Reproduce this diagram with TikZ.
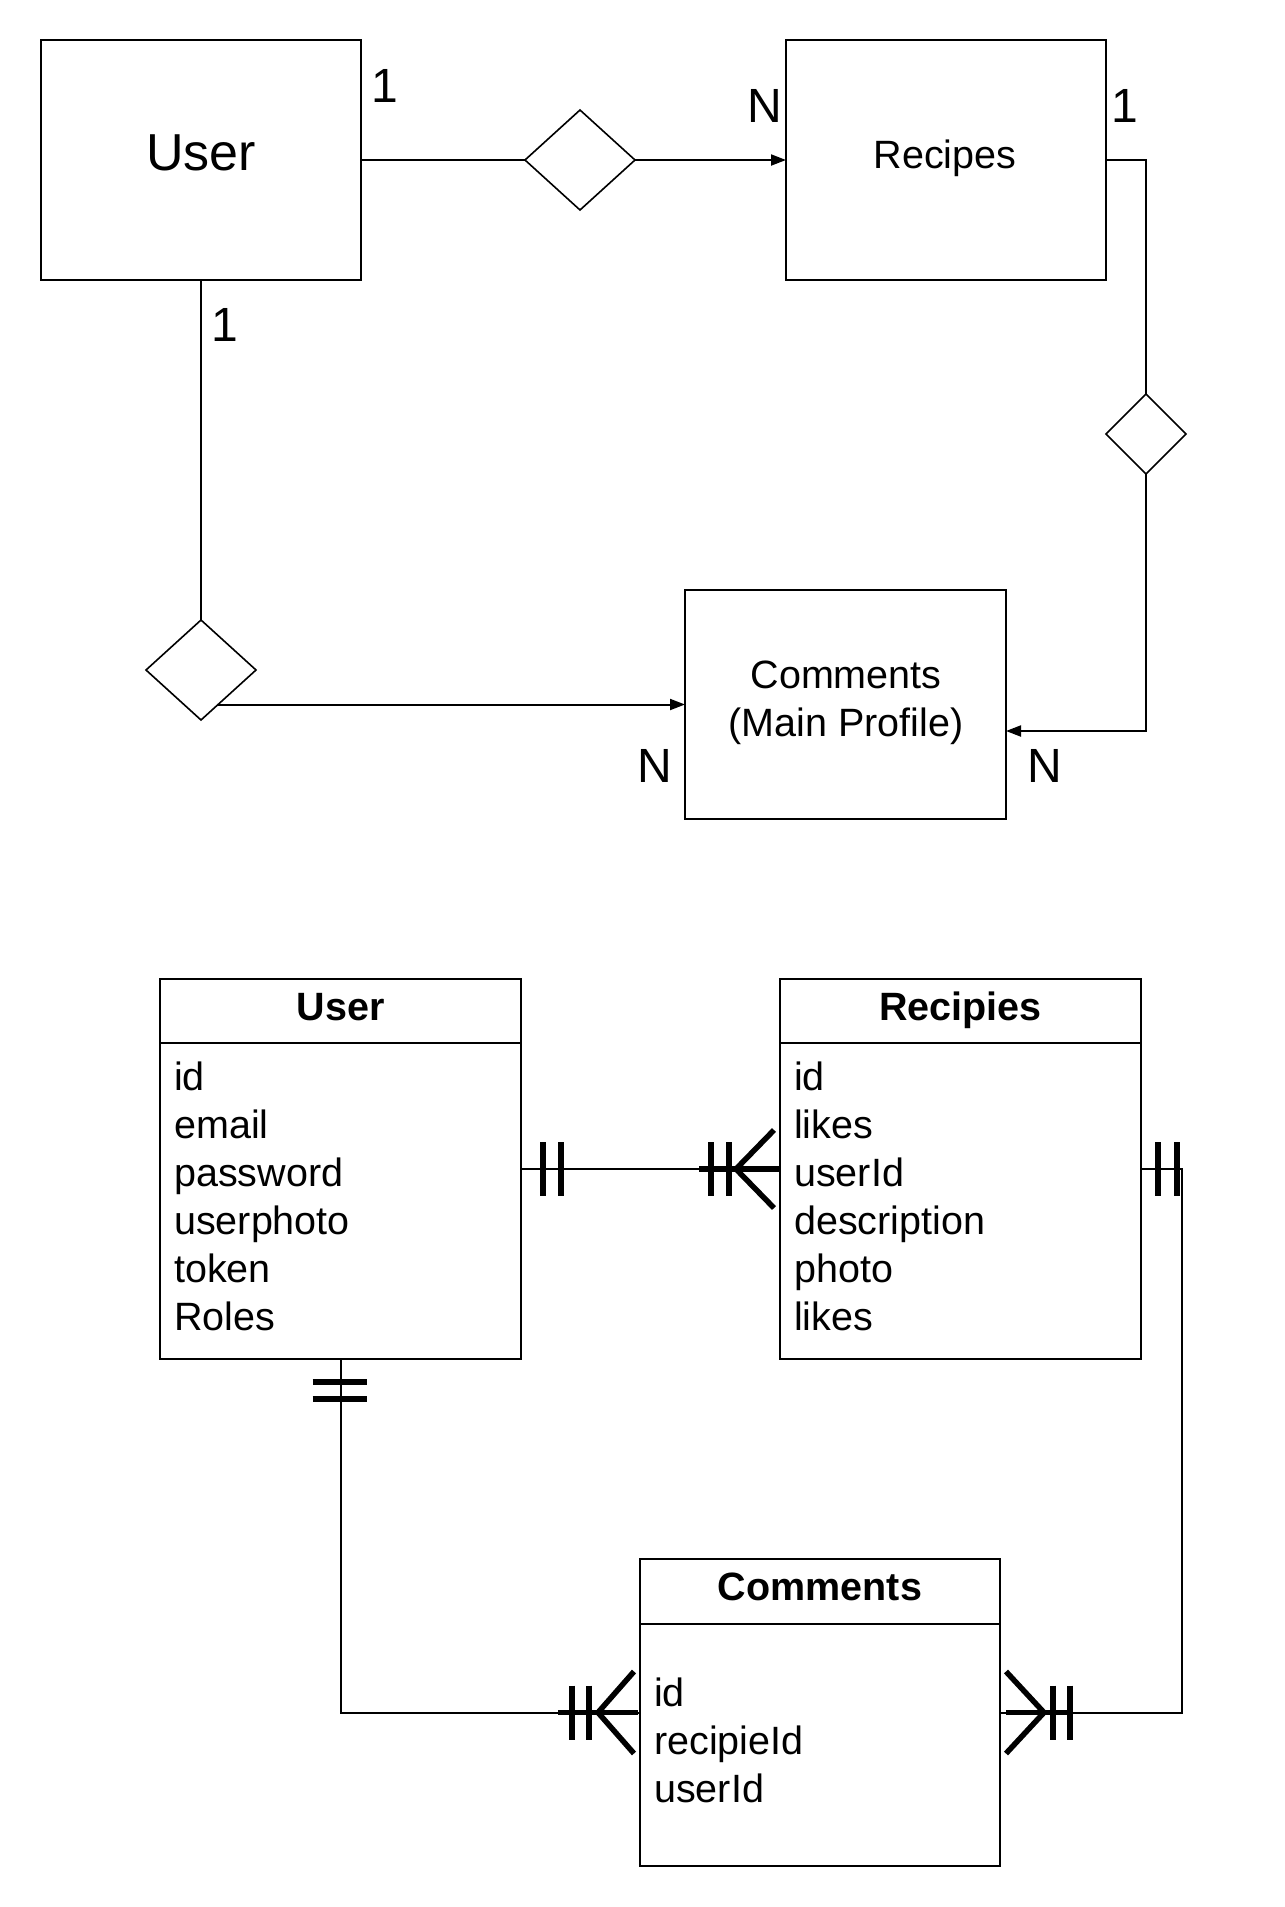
\documentclass[tikz,border=0pt]{standalone}
\usepackage{fontspec}
\setmainfont{Liberation Sans}
\usetikzlibrary{shapes.geometric,arrows.meta,calc}
\begin{document}
\begin{tikzpicture}[x=1pt,y=-1pt,
  ent/.style={draw, line width=2.2pt, inner sep=0pt, outer sep=0pt, anchor=north west},
  rel/.style={draw, diamond, line width=1.6pt, inner sep=0pt, outer sep=0pt},
  conn/.style={line width=2pt},
  arr/.style={conn, -{Triangle[length=15pt,width=11pt]}},
  card/.style={font=\fontsize{48}{56}\selectfont, anchor=base, inner sep=0pt},
  title/.style={font=\fontsize{52}{60}\selectfont, anchor=base, inner sep=0pt},
  txt/.style={font=\fontsize{39.5}{47}\selectfont, anchor=base, inner sep=0pt},
  hdr/.style={font=\fontsize{39.5}{47}\selectfont\bfseries, anchor=base, inner sep=0pt},
  fld/.style={font=\fontsize{39.5}{47}\selectfont, anchor=base west, inner sep=0pt},
  tbl/.style={draw, line width=2.2pt, inner sep=0pt, outer sep=0pt, anchor=north west},
  sep/.style={line width=2.2pt},
  bar/.style={line width=6pt},
  foot/.style={line width=5.5pt},
]
\useasboundingbox (0,0) rectangle (1285,1907);

% ---------- Conceptual ER diagram ----------
\node[ent, minimum width=320pt, minimum height=240pt] (user) at (41,40) {};
\node[title] (userT) at (201,170) {User};
\node[ent, minimum width=320pt, minimum height=240pt] (recipes) at (786,40) {};
\node[txt] (recipesT) at (945,168) {Recipes};
\node[ent, minimum width=321pt, minimum height=229pt] (comm) at (685,590) {};
\node[txt] (commT1) at (846,688) {Comments};
\node[txt] (commT2) at (846,736) {(Main Profile)};

\node[rel, minimum width=110pt, minimum height=100pt] (r1) at (580,160) {};
\node[rel, minimum width=80pt, minimum height=80pt] (r2) at (1146,434) {};
\node[rel, minimum width=110pt, minimum height=100pt] (r3) at (201,670) {};

\draw[conn] (user.east) -- (r1.west);
\draw[arr] (r1.east) -- (recipes.west);
\draw[conn] (recipes.east) -| (r2.north);
\coordinate (commIn) at ([yshift=-26.5pt]comm.east);
\draw[arr] (r2.south) |- (commIn);
\draw[conn] (user.south) -- (r3.north);
\path ($(r3.south)!0.31!(r3.east)$) coordinate (r3out);
\draw[arr] (r3out) -- (r3out -| comm.west);

\node[card] (c1) at (385,102) {1};
\node[card] (c2) at (765,122) {N};
\node[card] (c3) at (1125,122) {1};
\node[card] (c4) at (225,341) {1};
\node[card] (c5) at (655,782) {N};
\node[card] (c6) at (1045,782) {N};

% ---------- Table diagram ----------
\node[tbl, minimum width=361pt, minimum height=380pt] (uT) at (160,979) {};
\draw[sep] ([yshift=-64pt]uT.north west) -- ([yshift=-64pt]uT.north east);
\node[hdr] (uTh) at (340.5,1020) {User};
\foreach \t [count=\i from 0] in {id,email,password,userphoto,token,Roles}
  \node[fld] (uf\i) at (174,{1090+48.1*\i}) {\t};

\node[tbl, minimum width=361pt, minimum height=380pt] (rT) at (780,979) {};
\draw[sep] ([yshift=-64pt]rT.north west) -- ([yshift=-64pt]rT.north east);
\node[hdr] (rTh) at (960.5,1020) {Recipies};
\foreach \t [count=\i from 0] in {id,likes,userId,description,photo,likes}
  \node[fld] (rf\i) at (794,{1090+48.1*\i}) {\t};

\node[tbl, minimum width=360pt, minimum height=307pt] (cT) at (640,1559) {};
\draw[sep] ([yshift=-65pt]cT.north west) -- ([yshift=-65pt]cT.north east);
\node[hdr] (cTh) at (820,1600) {Comments};
\foreach \t [count=\i from 0] in {id,recipieId,userId}
  \node[fld] (cf\i) at (654,{1706+48*\i}) {\t};

% User -- Recipies (one and only one to one or many)
\draw[conn] (uT.east) -- (rT.west);
\draw[bar] ($(uT.east)+(22,-27)$) -- ($(uT.east)+(22,27)$);
\draw[bar] ($(uT.east)+(40,-27)$) -- ($(uT.east)+(40,27)$);
\draw[foot] ($(rT.west)+(-81,0)$) -- (rT.west);
\draw[bar] ($(rT.west)+(-69,-27)$) -- ($(rT.west)+(-69,27)$);
\draw[bar] ($(rT.west)+(-51,-27)$) -- ($(rT.west)+(-51,27)$);
\draw[foot] ($(rT.west)+(-6,-39)$) -- ($(rT.west)+(-44,0)$) -- ($(rT.west)+(-6,39)$);

% Recipies -- Comments
\coordinate (rc) at ($(rT.east)+(41,0)$);
\draw[conn] (rT.east) -- (rc) |- (cT.east);
\draw[bar] ($(rT.east)+(17,-27)$) -- ($(rT.east)+(17,27)$);
\draw[bar] ($(rT.east)+(36,-27)$) -- ($(rT.east)+(36,27)$);
\draw[foot] ($(cT.east)+(6,0)$) -- ($(cT.east)+(71,0)$);
\draw[bar] ($(cT.east)+(53,-27)$) -- ($(cT.east)+(53,27)$);
\draw[bar] ($(cT.east)+(70,-27)$) -- ($(cT.east)+(70,27)$);
\draw[foot] ($(cT.east)+(6,-41)$) -- ($(cT.east)+(44,0)$) -- ($(cT.east)+(6,41)$);

% User -- Comments
\draw[conn] (uT.south) |- (cT.west);
\draw[bar] ($(uT.south)+(-28,23)$) -- ($(uT.south)+(26,23)$);
\draw[bar] ($(uT.south)+(-28,40)$) -- ($(uT.south)+(26,40)$);
\draw[foot] ($(cT.west)+(-82,0)$) -- ($(cT.west)+(-2,0)$);
\draw[bar] ($(cT.west)+(-68,-27)$) -- ($(cT.west)+(-68,27)$);
\draw[bar] ($(cT.west)+(-51,-27)$) -- ($(cT.west)+(-51,27)$);
\draw[foot] ($(cT.west)+(-6,-41)$) -- ($(cT.west)+(-42,0)$) -- ($(cT.west)+(-6,41)$);
\end{tikzpicture}
\end{document}
